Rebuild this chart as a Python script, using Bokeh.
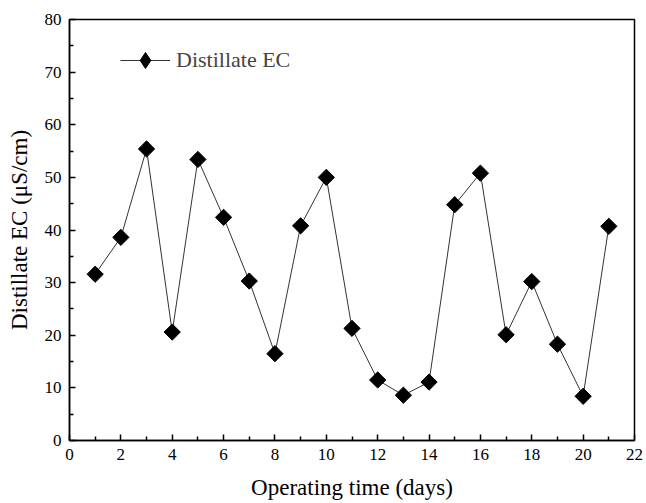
from bokeh.plotting import figure
from bokeh.models import Range1d, Legend, LegendItem, FixedTicker
from bokeh.embed import file_html
from bokeh.resources import INLINE
import math

days = list(range(1, 22))
ec = [31.6, 38.6, 55.4, 20.6, 53.4, 42.4, 30.3, 16.5, 40.8, 50.0,
      21.3, 11.5, 8.6, 11.1, 44.8, 50.8, 20.1, 30.2, 18.3, 8.4, 40.7]
x_ticks = list(range(0, 23, 2))
y_ticks = list(range(0, 81, 10))

FONT = "Liberation Serif"

p = figure(width=646, height=503, output_backend="svg", toolbar_location=None,
           x_range=Range1d(0, 22), y_range=Range1d(0, 80),
           min_border_left=69, min_border_right=12, min_border_top=19, min_border_bottom=63)
p.xgrid.visible = False
p.ygrid.visible = False
p.outline_line_color = "black"
p.outline_line_width = 1.5
p.background_fill_color = "white"
p.border_fill_color = "white"

ln = p.line(days, ec, line_color="#333333", line_width=1)
sc = p.scatter(days, ec, marker="square", size=11.5, angle=math.pi / 4,
               fill_color="black", line_color="black")
# hidden renderer used only to draw the diamond symbol in the legend
proxy = p.scatter(days, ec, marker="diamond", fill_color="black", line_color="black",
                  visible=False)

for ax, ticks in ((p.xaxis[0], x_ticks), (p.yaxis[0], y_ticks)):
    ax.ticker = FixedTicker(ticks=ticks,
                            minor_ticks=[t + (ticks[1] - ticks[0]) / 2 for t in ticks[:-1]])
    ax.axis_line_color = "black"
    ax.axis_line_width = 1.5
    ax.major_tick_in = 6
    ax.major_tick_out = 0
    ax.minor_tick_in = 4
    ax.minor_tick_out = 0
    ax.major_tick_line_color = "black"
    ax.major_tick_line_width = 1.5
    ax.minor_tick_line_color = "black"
    ax.minor_tick_line_width = 1.5
    ax.major_label_text_font = FONT
    ax.major_label_text_font_size = "17px"
    ax.major_label_text_color = "black"
    ax.axis_label_text_font = FONT
    ax.axis_label_text_font_size = "23px"
    ax.axis_label_text_font_style = "normal"
    ax.axis_label_text_color = "black"
    ax.major_label_standoff = 8

p.xaxis.axis_label = "Operating time (days)"
p.yaxis.axis_label = "Distillate EC (μS/cm)"
p.xaxis.axis_label_standoff = 12
p.yaxis.axis_label_standoff = 10

legend = Legend(items=[LegendItem(label="Distillate EC", renderers=[ln, proxy])],
                location=(51, 360), glyph_width=50, glyph_height=40,
                label_text_font=FONT, label_text_font_size="22px",
                label_standoff=6, padding=0, margin=0, spacing=0,
                border_line_color=None, background_fill_alpha=0)
p.add_layout(legend)

open("out.html", "w").write(file_html(p, INLINE))
